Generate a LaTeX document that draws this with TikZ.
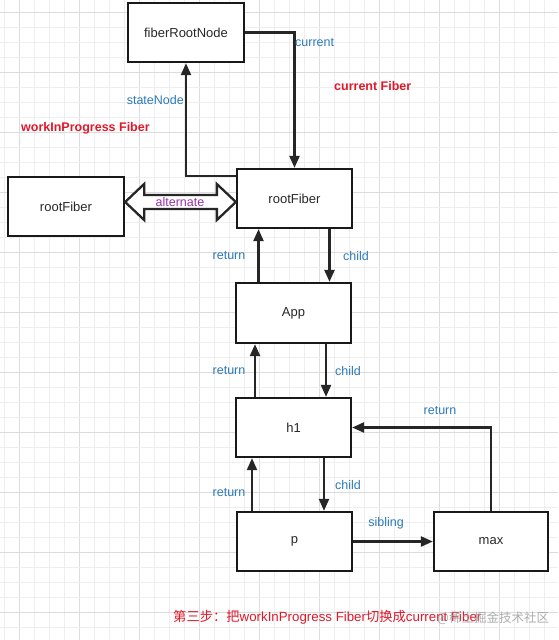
\documentclass[tikz,border=0pt]{standalone}
\usepackage{fontspec}
\setmainfont{Liberation Sans}
\newfontfamily\cjk{Noto Sans CJK SC}
\usetikzlibrary{arrows.meta,calc}
\definecolor{lblblue}{RGB}{44,122,186}
\definecolor{lblred}{RGB}{224,24,42}
\definecolor{lblpurple}{RGB}{150,50,170}
\definecolor{gridminor}{RGB}{238,238,238}
\definecolor{gridmajor}{RGB}{220,220,220}
\definecolor{boxtext}{RGB}{40,40,40}
\tikzset{
  fbox/.style={draw=black!90, line width=2.3pt, fill=white, minimum width=115pt, minimum height=59pt, inner sep=0pt, font=\fontsize{13}{15}\selectfont, text=boxtext},
  arr/.style={line width=2.3pt, draw=black!85, -{Triangle[length=12pt,width=10pt]}},
  lbl/.style={font=\fontsize{12.5}{14}\selectfont, text=lblblue, inner sep=0pt},
  redlbl/.style={font=\fontsize{12.5}{14}\selectfont\bfseries, text=lblred, inner sep=0pt},
}
\begin{document}
\begin{tikzpicture}[x=1pt,y=-1pt]
\useasboundingbox (0,0) rectangle (558,640);
\fill[white] (0,0) rectangle (558,640);
% grid
\foreach \k in {0,...,36} {
  \pgfmathtruncatemacro{\m}{mod(\k,4)}
  \ifnum\m=1 \draw[gridmajor,line width=0.8pt] (4.3+15*\k,0) -- (4.3+15*\k,640);
  \else \draw[gridminor,line width=0.8pt] (4.3+15*\k,0) -- (4.3+15*\k,640); \fi
}
\foreach \k in {0,...,41} {
  \pgfmathtruncatemacro{\m}{mod(\k,4)}
  \ifnum\m=0 \draw[gridmajor,line width=0.8pt] (0,12.5+15*\k) -- (558,12.5+15*\k);
  \else \draw[gridminor,line width=0.8pt] (0,12.5+15*\k) -- (558,12.5+15*\k); \fi
}

% nodes
\node[fbox, minimum width=116pt] (frn) at (186,32.5) {fiberRootNode};
\node[fbox] (rfR) at (294.5,198.5) {rootFiber};
\node[fbox, minimum width=116pt] (rfL) at (66,206.5) {rootFiber};
\node[fbox, minimum height=60pt] (app) at (293.5,313) {App};
\node[fbox] (h1) at (293.5,427.5) {h1};
\node[fbox] (p) at (294.5,541.5) {p};
\node[fbox, minimum width=114pt] (max) at (491,541.5) {max};

% connectors
\draw[arr] (frn.east) -| (rfR.north);
\draw[arr] ([yshift=-8pt]rfR.north west) -| (frn.south);

\draw[arr] ([xshift=-35pt]app.north) -- ([xshift=-35pt]app.north |- rfR.south);
\draw[arr] ([xshift=35pt]rfR.south) -- ([xshift=35pt]rfR.south |- app.north);

\draw[arr] ([xshift=-38.5pt]h1.north) -- ([xshift=-38.5pt]h1.north |- app.south);
\draw[arr] ([xshift=32.5pt]app.south) -- ([xshift=32.5pt]app.south |- h1.north);

\draw[arr] ([xshift=-42.5pt]p.north) -- ([xshift=-42.5pt]p.north |- h1.south);
\draw[arr] ([xshift=30.5pt]h1.south) -- ([xshift=30.5pt]h1.south |- p.north);

\draw[arr] (max.north) |- (h1.east);
\draw[arr] (p.east) -- (max.west);

% alternate double arrow
\coordinate (altL) at (rfL.east |- 0,202);
\coordinate (altR) at (rfR.west |- 0,202);
\draw[line width=2.3pt, draw=black!85, fill=white, line join=miter]
  (altL) -- ($(altL)+(19,-18)$) -- ($(altL)+(19,-7)$) -- ($(altR)+(-19,-7)$) -- ($(altR)+(-19,-18)$)
  -- (altR) -- ($(altR)+(-19,18)$) -- ($(altR)+(-19,7)$) -- ($(altL)+(19,7)$) -- ($(altL)+(19,18)$) -- cycle;
\node[lbl, text=lblpurple] (altlbl) at (180,202) {alternate};

% labels
\node[lbl, anchor=west] (lcur) at (295,43) {current};
\node[redlbl, anchor=west] (lcurf) at (334,86) {current Fiber};
\node[lbl, anchor=east] (lsn) at (184,100) {stateNode};
\node[redlbl, anchor=west] (lwip) at (21,128) {workInProgress Fiber};
\node[lbl] (lr1) at (229,256) {return};
\node[lbl, anchor=west] (lc1) at (343,256) {child};
\node[lbl] (lr2) at (229,371) {return};
\node[lbl, anchor=west] (lc2) at (335,371) {child};
\node[lbl] (lr4) at (440,411) {return};
\node[lbl] (lr3) at (229,493) {return};
\node[lbl, anchor=west] (lc3) at (335,485) {child};
\node[lbl] (lsib) at (386,523) {sibling};

% caption
\node[anchor=west, inner sep=0pt, text=lblred, font=\fontsize{13.3}{15}\selectfont] (cap) at (173,617)
  {{\cjk 第三步：把}workInProgress Fiber{\cjk 切换成}current Fiber};
\node[anchor=west, inner sep=0pt, text=black!40, font=\fontsize{12.5}{15}\selectfont\cjk, opacity=0.8] (wm) at (437,618) {@稀土掘金技术社区};
\end{tikzpicture}
\end{document}
